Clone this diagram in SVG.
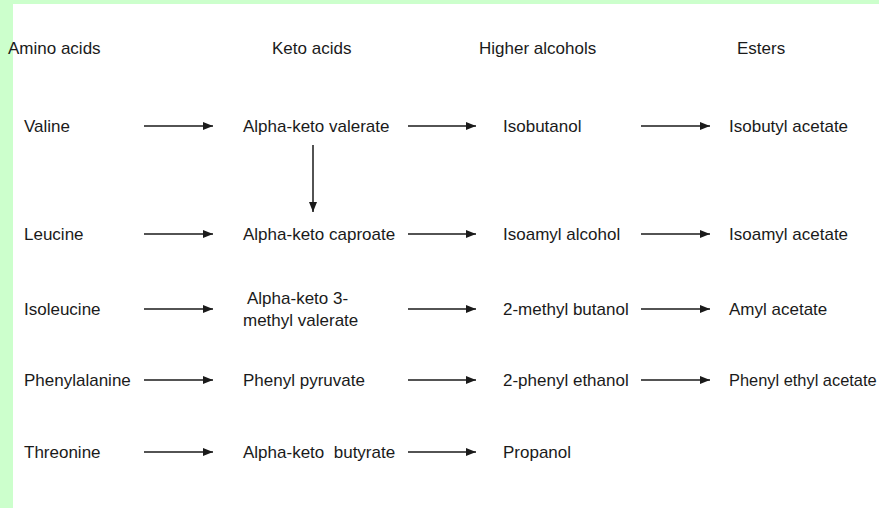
<svg xmlns="http://www.w3.org/2000/svg" width="879" height="508" viewBox="0 0 879 508">
<style>
text{font-family:"Liberation Sans",Arial,sans-serif;font-size:17px;fill:#1a1a1a}
.c line{stroke:#1a1a1a;stroke-width:1.5}
</style>
<defs>
<marker id="ah" viewBox="0 0 10 8" refX="10" refY="4" markerWidth="10" markerHeight="8" markerUnits="userSpaceOnUse" orient="auto">
<path d="M0,0L10,4L0,8z" fill="#1a1a1a"/>
</marker>
</defs>
<rect width="879" height="508" fill="#ffffff"/>
<rect x="0" y="0" width="879" height="4" fill="#ccffcc"/>
<rect x="0" y="0" width="13" height="508" fill="#ccffcc"/>
<g id="headers">
<text x="8" y="54">Amino acids</text>
<text x="272" y="54">Keto acids</text>
<text x="479" y="54">Higher alcohols</text>
<text x="737" y="54">Esters</text>
</g>
<g id="valine"><text x="24" y="132">Valine</text></g>
<g id="akvalerate"><text x="243" y="132">Alpha-keto valerate</text></g>
<g id="isobutanol"><text x="503" y="132">Isobutanol</text></g>
<g id="isobutylacetate"><text x="729" y="132">Isobutyl acetate</text></g>
<g id="leucine"><text x="24" y="240">Leucine</text></g>
<g id="akcaproate"><text x="243" y="240">Alpha-keto caproate</text></g>
<g id="isoamylalcohol"><text x="503" y="240">Isoamyl alcohol</text></g>
<g id="isoamylacetate"><text x="729" y="240">Isoamyl acetate</text></g>
<g id="isoleucine"><text x="24" y="315">Isoleucine</text></g>
<g id="ak3mv"><text x="247" y="304">Alpha-keto 3-</text><text x="243" y="326">methyl valerate</text></g>
<g id="methylbutanol"><text x="503" y="315">2-methyl butanol</text></g>
<g id="amylacetate"><text x="729" y="315">Amyl acetate</text></g>
<g id="phenylalanine"><text x="24" y="386">Phenylalanine</text></g>
<g id="phenylpyruvate"><text x="243" y="386">Phenyl pyruvate</text></g>
<g id="phenylethanol"><text x="503" y="386">2-phenyl ethanol</text></g>
<g id="phenylethylacetate"><text x="729" y="386" style="font-size:16.4px">Phenyl ethyl acetate</text></g>
<g id="threonine"><text x="24" y="458">Threonine</text></g>
<g id="akbutyrate"><text x="243" y="458" xml:space="preserve">Alpha-keto  butyrate</text></g>
<g id="propanol"><text x="503" y="458">Propanol</text></g>
<g id="connectors" class="c">
<line x1="144" y1="126" x2="213" y2="126" marker-end="url(#ah)"/>
<line x1="408" y1="126" x2="476" y2="126" marker-end="url(#ah)"/>
<line x1="641" y1="126" x2="710" y2="126" marker-end="url(#ah)"/>
<line x1="313" y1="145" x2="313" y2="212" marker-end="url(#ah)"/>
<line x1="144" y1="234" x2="213" y2="234" marker-end="url(#ah)"/>
<line x1="408" y1="234" x2="476" y2="234" marker-end="url(#ah)"/>
<line x1="641" y1="234" x2="710" y2="234" marker-end="url(#ah)"/>
<line x1="144" y1="309" x2="213" y2="309" marker-end="url(#ah)"/>
<line x1="408" y1="309" x2="476" y2="309" marker-end="url(#ah)"/>
<line x1="641" y1="309" x2="710" y2="309" marker-end="url(#ah)"/>
<line x1="144" y1="380" x2="213" y2="380" marker-end="url(#ah)"/>
<line x1="408" y1="380" x2="476" y2="380" marker-end="url(#ah)"/>
<line x1="641" y1="380" x2="710" y2="380" marker-end="url(#ah)"/>
<line x1="144" y1="452" x2="213" y2="452" marker-end="url(#ah)"/>
<line x1="408" y1="452" x2="476" y2="452" marker-end="url(#ah)"/>
</g>
</svg>
